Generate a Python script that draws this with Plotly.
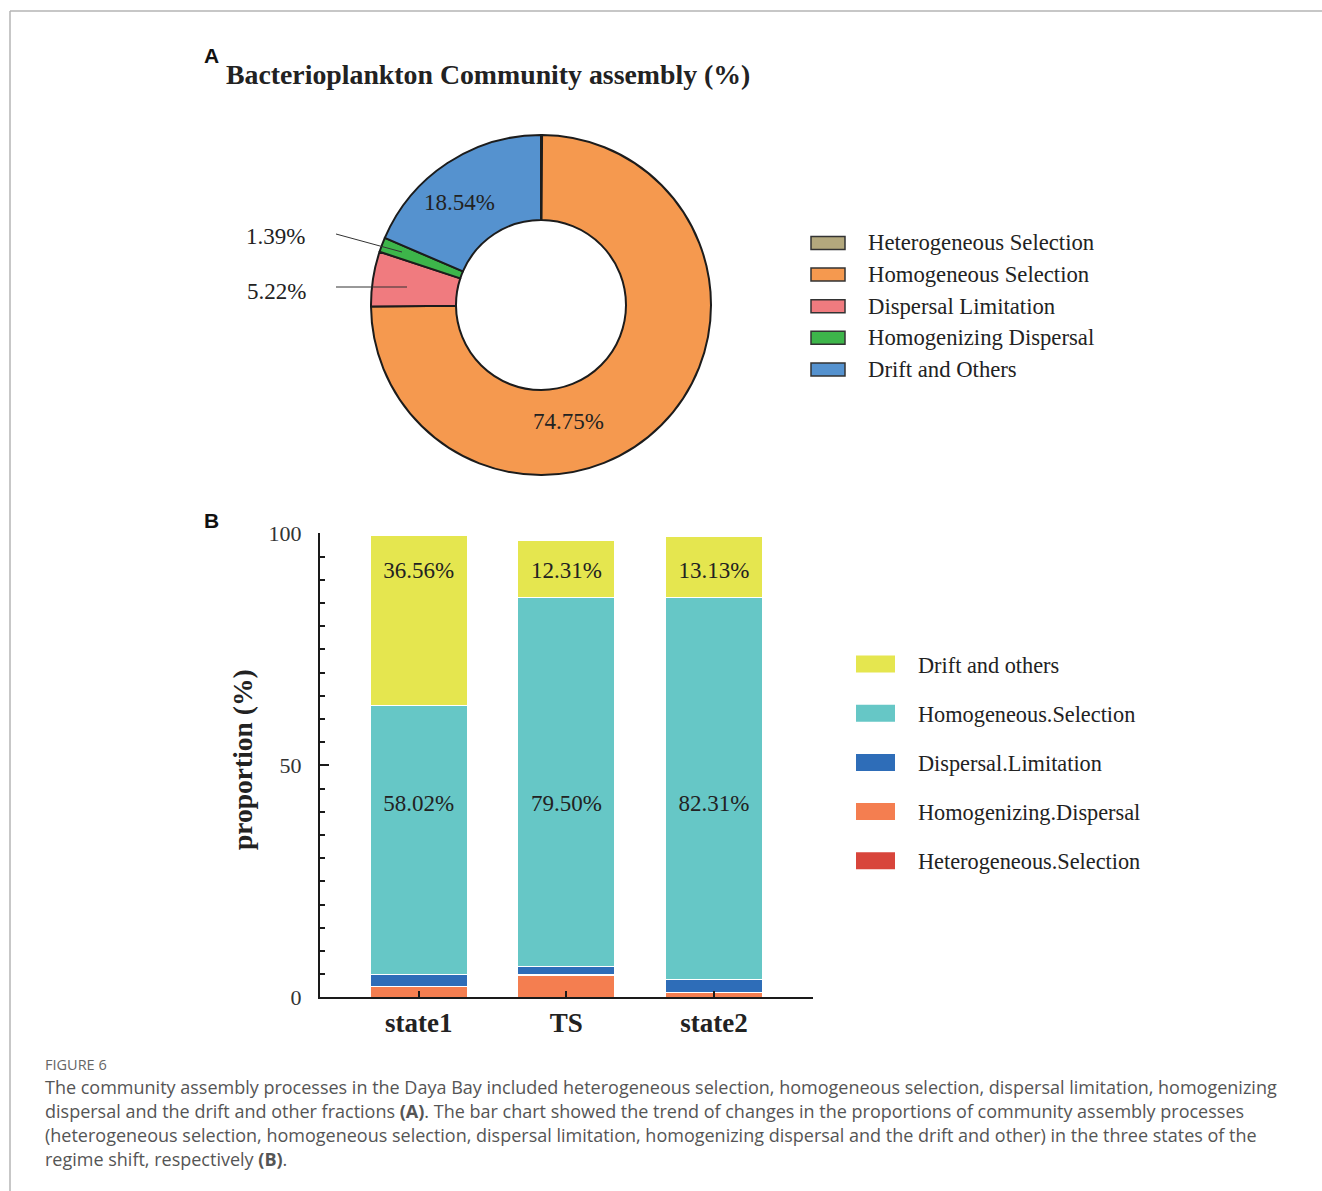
import plotly.graph_objects as go

W, H = 1322, 1191

# Panel A: overall community assembly fractions (%)
pie_labels = ["Heterogeneous Selection", "Homogeneous Selection", "Dispersal Limitation",
              "Homogenizing Dispersal", "Drift and Others"]
pie_values = [0.10, 74.75, 5.22, 1.39, 18.54]
pie_colors = ["#B3A87D", "#F5994F", "#F07B7F", "#3DB54A", "#5592CF"]

# Panel B: assembly fractions in the three regime-shift states (%)
states = ["state1", "TS", "state2"]
bar_names = ["Heterogeneous.Selection", "Homogenizing.Dispersal", "Dispersal.Limitation",
             "Homogeneous.Selection", "Drift and others"]
hetero_sel = [0.0, 0.0, 0.0]
homogenizing = [2.4, 4.8, 1.0]
dispersal_lim = [2.5, 1.9, 2.9]
homogeneous_sel = [58.02, 79.50, 82.31]
drift = [36.56, 12.31, 13.13]
bar_colors = ["#D8453B", "#F47E50", "#2E6DB8", "#66C7C6", "#E5E64F"]

caption_head = "FIGURE 6"
caption_lines = [
    "The community assembly processes in the Daya Bay included heterogeneous selection, homogeneous selection, dispersal limitation, homogenizing",
    "dispersal and the drift and other fractions <b>(A)</b>. The bar chart showed the trend of changes in the proportions of community assembly processes",
    "(heterogeneous selection, homogeneous selection, dispersal limitation, homogenizing dispersal and the drift and other) in the three states of the",
    "regime shift, respectively <b>(B)</b>.",
]

SERIF = "Liberation Serif, Times New Roman, serif"
SANS = "Liberation Sans, Arial, sans-serif"
CAP = "Open Sans, Noto Sans, sans-serif"


def px(x):
    return x / W


def py(y):
    return 1 - y / H


fig = go.Figure()

# ---- donut ----
fig.add_trace(go.Pie(
    labels=pie_labels, values=pie_values, sort=False, direction="clockwise",
    rotation=0, hole=0.5,
    marker=dict(colors=pie_colors, line=dict(color="#1c1c1c", width=2)),
    textinfo="none", hoverinfo="label+percent", showlegend=False,
    domain=dict(x=[px(370), px(712)], y=[py(475), py(135)]),
))

# ---- stacked bars ----
bar_series = [hetero_sel, homogenizing, dispersal_lim, homogeneous_sel, drift]
for name, vals, col in zip(bar_names, bar_series, bar_colors):
    fig.add_trace(go.Bar(
        x=states, y=vals, name=name, width=0.66,
        marker=dict(color=col, line=dict(color="white", width=1.2)),
        showlegend=False,
    ))

# percentage labels on the bars
fig.add_trace(go.Scatter(
    x=states, y=[91.5] * 3, mode="text",
    text=[f"{v:.2f}%" for v in drift],
    textfont=dict(family=SERIF, size=23, color="#222"),
    showlegend=False, hoverinfo="skip",
))
fig.add_trace(go.Scatter(
    x=states, y=[41.4] * 3, mode="text",
    text=[f"{v:.2f}%" for v in homogeneous_sel],
    textfont=dict(family=SERIF, size=23, color="#222"),
    showlegend=False, hoverinfo="skip",
))

annotations = []
shapes = []

# page frame
shapes.append(dict(type="line", xref="paper", yref="paper", x0=px(10), x1=1, y0=py(11), y1=py(11),
                   line=dict(color="#b5b5b5", width=1.5)))
shapes.append(dict(type="line", xref="paper", yref="paper", x0=px(10), x1=px(10), y0=py(11), y1=0,
                   line=dict(color="#b5b5b5", width=1.5)))

# panel letters and title
annotations.append(dict(text="<b>A</b>", x=px(202), y=py(56), xref="paper", yref="paper",
                        xanchor="left", yanchor="middle", showarrow=False,
                        font=dict(family=SANS, size=21, color="#111")))
annotations.append(dict(text="<b>B</b>", x=px(202), y=py(520), xref="paper", yref="paper",
                        xanchor="left", yanchor="middle", showarrow=False,
                        font=dict(family=SANS, size=21, color="#111")))
annotations.append(dict(text="<b>Bacterioplankton Community assembly (%)</b>", x=px(224), y=py(75),
                        xref="paper", yref="paper", xanchor="left", yanchor="middle", showarrow=False,
                        font=dict(family=SERIF, size=27.8, color="#222")))

# donut value labels
pie_text_pos = {1: (568, 421), 2: (276, 291), 3: (275, 236), 4: (459, 203)}
for i, (cx, cy) in pie_text_pos.items():
    annotations.append(dict(text=f"{pie_values[i]:.2f}%", x=px(cx), y=py(cy), xref="paper", yref="paper",
                            xanchor="center", yanchor="middle", showarrow=False,
                            font=dict(family=SERIF, size=23, color="#222")))
# leader lines for the two narrow slices
shapes.append(dict(type="line", xref="paper", yref="paper", x0=px(336), y0=py(234), x1=px(402), y1=py(252),
                   line=dict(color="#333", width=1)))
shapes.append(dict(type="line", xref="paper", yref="paper", x0=px(336), y0=py(287), x1=px(407), y1=py(287),
                   line=dict(color="#333", width=1)))

# legend for the donut
for k, (lab, col) in enumerate(zip(pie_labels, pie_colors)):
    yc = 243 + k * 31.6
    shapes.append(dict(type="rect", xref="paper", yref="paper",
                       x0=px(811), x1=px(845), y0=py(yc + 6.5), y1=py(yc - 6.5),
                       fillcolor=col, line=dict(color="#333", width=1.5)))
    annotations.append(dict(text=lab, x=px(866), y=py(yc), xref="paper", yref="paper",
                            xanchor="left", yanchor="middle", showarrow=False,
                            font=dict(family=SERIF, size=22.7, color="#222")))

# legend for the bars (top segment first)
for k, (lab, col) in enumerate(zip(bar_names[::-1], bar_colors[::-1])):
    yc = 664 + k * 49.2
    shapes.append(dict(type="rect", xref="paper", yref="paper",
                       x0=px(856), x1=px(895), y0=py(yc + 8.5), y1=py(yc - 8.5),
                       fillcolor=col, line=dict(width=0)))
    annotations.append(dict(text=lab, x=px(916), y=py(yc + 1), xref="paper", yref="paper",
                            xanchor="left", yanchor="middle", showarrow=False,
                            font=dict(family=SERIF, size=22.3, color="#222")))

# y axis title
annotations.append(dict(text="<b>proportion (%)</b>", x=px(242), y=py(760), xref="paper", yref="paper",
                        xanchor="center", yanchor="middle", textangle=-90, showarrow=False,
                        font=dict(family=SERIF, size=27.5, color="#222")))

# caption
annotations.append(dict(text=caption_head, x=px(43), y=py(1064), xref="paper", yref="paper",
                        xanchor="left", yanchor="middle", showarrow=False,
                        font=dict(family=CAP, size=14.5, color="#666")))
for k, line in enumerate(caption_lines):
    annotations.append(dict(text=line, x=px(43), y=py(1087 + 24 * k), xref="paper", yref="paper",
                            xanchor="left", yanchor="middle", showarrow=False,
                            font=dict(family=CAP, size=18, color="#555")))

fig.update_layout(
    width=W, height=H, autosize=False,
    margin=dict(l=0, r=0, t=0, b=0, pad=0, autoexpand=False),
    paper_bgcolor="white", plot_bgcolor="white",
    barmode="stack", bargap=0.3,
    showlegend=False,
    xaxis=dict(
        domain=[px(320), px(813)], range=[-0.668, 2.67], automargin=False,
        showline=True, linecolor="#1a1a1a", linewidth=2,
        ticks="inside", ticklen=6, tickwidth=2, tickcolor="#1a1a1a",
        tickfont=dict(family=SERIF, size=27, color="#222", weight="bold"),
        ticklabelstandoff=0, showgrid=False, zeroline=False, fixedrange=True,
    ),
    yaxis=dict(
        domain=[py(997.3), py(533.3)], range=[0, 100], automargin=False,
        showline=True, linecolor="#1a1a1a", linewidth=2,
        tickvals=[0, 50, 100], ticks="inside", ticklen=9, tickwidth=2, tickcolor="#1a1a1a",
        minor=dict(dtick=5, ticks="inside", ticklen=5, tickwidth=1.5, tickcolor="#1a1a1a"),
        tickfont=dict(family=SERIF, size=22, color="#333"),
        ticklabelstandoff=12, showgrid=False, zeroline=False, fixedrange=True,
    ),
    annotations=annotations,
    shapes=shapes,
)

fig.write_html("out.html")
